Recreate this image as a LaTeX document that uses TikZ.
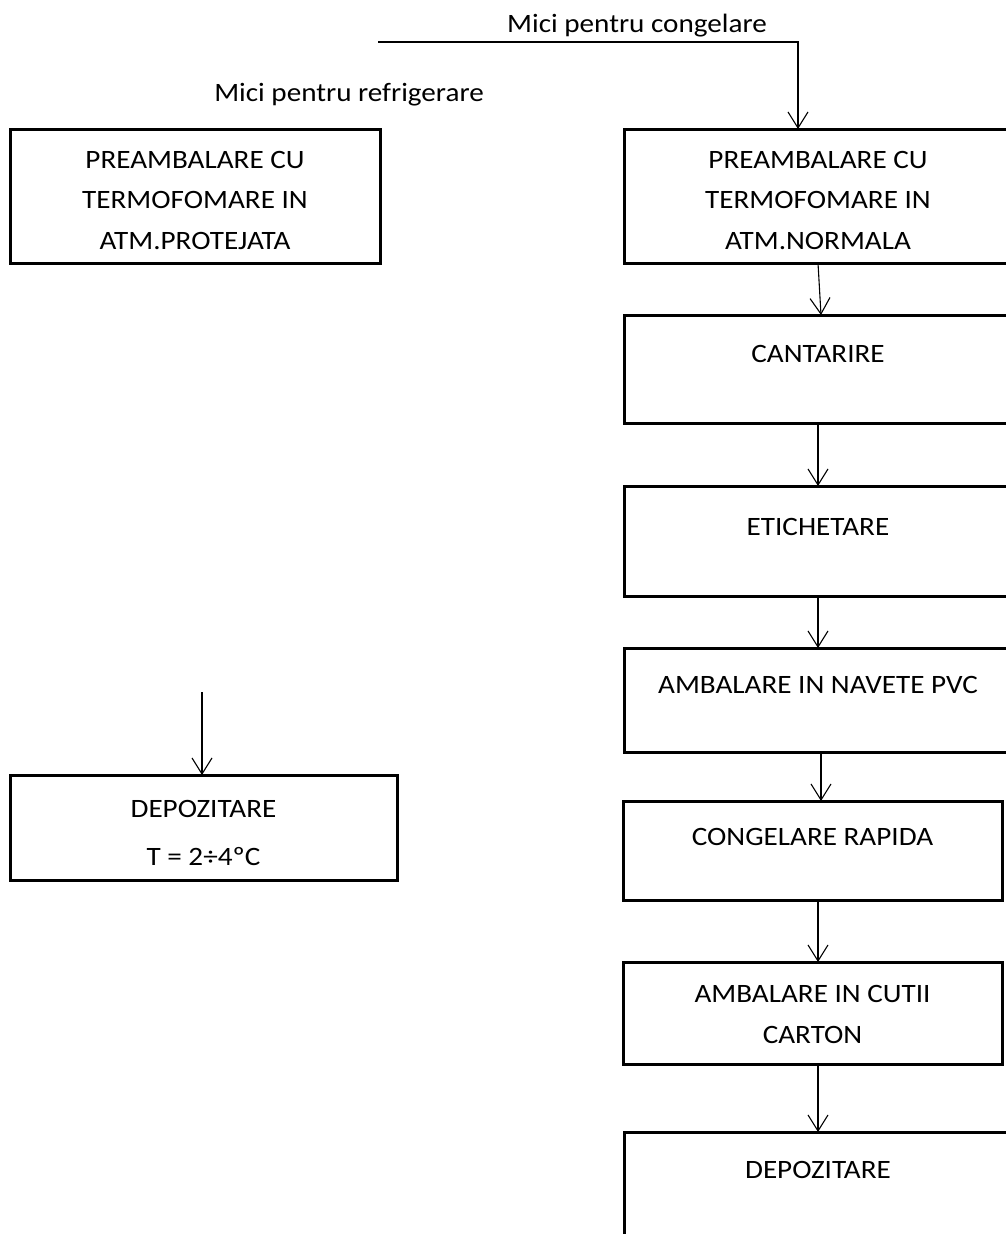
\documentclass[tikz,border=0pt]{standalone}
\usepackage{fontspec}
\setmainfont{Carlito}[FakeStretch=1.1]
\usetikzlibrary{arrows.meta}
\begin{document}
\begin{tikzpicture}[x=1pt,y=-1pt,
  box/.style={draw, line width=3pt, rectangle, inner sep=0pt, outer sep=0pt, anchor=north west},
  lbl/.style={font=\fontsize{26.5}{40.5}\selectfont, align=center, inner sep=0pt, anchor=base},
  arr/.style={line width=1.1pt, -{Straight Barb[length=16pt,width=20pt,line width=1.1pt]}}]
  % page
  \fill[white] (0,0) rectangle (1006,1234);
  \useasboundingbox (0,0) rectangle (1006,1234);
  \clip (0,0) rectangle (1006,1234);

  % headings
  \node[lbl] (tcong) at (637,32) {Mici pentru congelare};
  \node[lbl] (trefr) at (349,101) {Mici pentru refrigerare};

  % left branch: refrigeration (base anchor = last line of the text)
  \node[box, minimum width=370pt, minimum height=134pt] (l1) at (10,129) {};
  \node[lbl] (l1t) at ([yshift=-120pt]l1.north) {PREAMBALARE CU\\TERMOFOMARE IN\\ATM.PROTEJATA};
  \node[box, minimum width=387pt, minimum height=105pt] (l2) at (10,775) {};
  \node[lbl] (l2t) at ([yshift=-90pt]l2.north) {DEPOZITARE\\[7pt]T = 2÷4ºC};

  % right branch: freezing
  \node[box, minimum width=388pt, minimum height=134pt] (r1) at (624,129) {};
  \node[lbl] (r1t) at ([yshift=-120pt]r1.north) {PREAMBALARE CU\\TERMOFOMARE IN\\ATM.NORMALA};
  \node[box, minimum width=388pt, minimum height=108pt] (r2) at (624,315) {};
  \node[lbl] (r2t) at ([yshift=-47pt]r2.north) {CANTARIRE};
  \node[box, minimum width=388pt, minimum height=110pt] (r3) at (624,486) {};
  \node[lbl] (r3t) at ([yshift=-49pt]r3.north) {ETICHETARE};
  \node[box, minimum width=388pt, minimum height=104pt] (r4) at (624,648) {};
  \node[lbl] (r4t) at ([yshift=-45pt]r4.north) {AMBALARE IN NAVETE PVC};
  \node[box, minimum width=379pt, minimum height=99pt] (r5) at (623,801) {};
  \node[lbl] (r5t) at ([yshift=-44pt]r5.north) {CONGELARE RAPIDA};
  \node[box, minimum width=379pt, minimum height=102pt] (r6) at (623,962) {};
  \node[lbl] (r6t) at ([yshift=-81pt]r6.north) {AMBALARE IN CUTII\\CARTON};
  \node[box, minimum width=388pt, minimum height=130pt] (r7) at (624,1132) {};
  \node[lbl] (r7t) at ([yshift=-46pt]r7.north) {DEPOZITARE};

  % connectors
  \coordinate (cin) at (378,42);
  \draw[arr] (cin) -| ([xshift=-20pt]r1.north);
  \coordinate (rin) at (202,692);
  \draw[arr] (rin) -- (rin |- l2.north);
  \draw[arr] (r1.south) -- ([xshift=3pt]r2.north);
  \draw[arr] (r2.south) -- (r3.north);
  \draw[arr] (r3.south) -- (r4.north);
  \draw[arr] ([xshift=3pt]r4.south) -- ([xshift=8.5pt]r5.north);
  \draw[arr] ([xshift=5.5pt]r5.south) -- ([xshift=5.5pt]r6.north);
  \draw[arr] ([xshift=5.5pt]r6.south) -- ([xshift=0pt]r7.north);
\end{tikzpicture}
\end{document}
